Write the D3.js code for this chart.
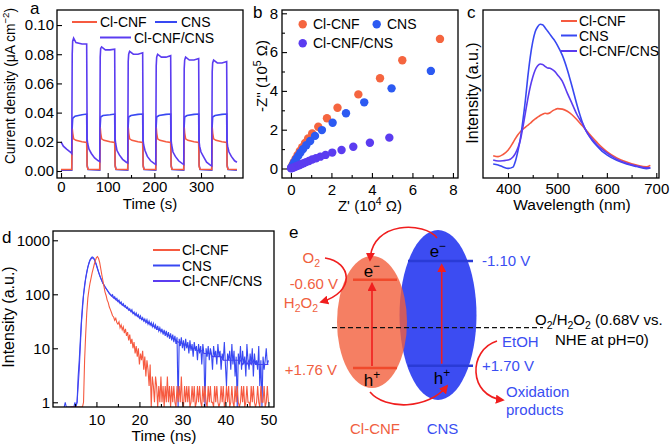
<!DOCTYPE html>
<html><head><meta charset="utf-8">
<script src="https://cdn.jsdelivr.net/npm/d3@7"></script>
<style>body{margin:0;background:#fff}svg{display:block}</style>
</head><body><svg id="c" width="671" height="447"></svg>
<script>
// ---------------- DATA ----------------
// (a) photocurrent, [time s, current µA cm^-2]
const aXTicks = [0, 100, 200, 300];
const aXMinor = [50, 150, 250, 350];
const aYTicks = [0, 0.02, 0.04, 0.06, 0.08, 0.10];
const aCNF = [[0,0.001],[23,0.001],[24,0.029],[25,0.026],[27,0.022],[32,0.021],[45,0.020],[55,0.0195],[56,0.003],[58,0.0012],[83,0.001],[84,0.030],[85,0.026],[87,0.022],[92,0.021],[105,0.020],[115,0.0195],[116,0.003],[118,0.0012],[143,0.001],[144,0.030],[145,0.026],[147,0.022],[152,0.021],[165,0.020],[175,0.0195],[176,0.003],[178,0.0012],[203,0.001],[204,0.030],[205,0.026],[207,0.022],[212,0.021],[225,0.020],[235,0.0195],[236,0.003],[238,0.0012],[263,0.001],[264,0.030],[265,0.026],[267,0.022],[272,0.021],[285,0.020],[295,0.0195],[296,0.003],[298,0.0012],[323,0.001],[324,0.030],[325,0.026],[327,0.022],[332,0.021],[345,0.020],[355,0.0195],[356,0.003],[358,0.0012],[377,0.001]];
const aCNS = [[0,0.0005],[23,0.0005],[24,0.030],[25,0.036],[30,0.0375],[45,0.0385],[55,0.039],[56,0.004],[58,0.001],[83,0.0005],[84,0.031],[85,0.037],[90,0.038],[105,0.0385],[115,0.039],[116,0.004],[118,0.001],[143,0.0005],[144,0.031],[145,0.037],[150,0.038],[165,0.0388],[175,0.039],[176,0.004],[178,0.001],[203,0.0005],[204,0.031],[205,0.037],[210,0.038],[225,0.0388],[235,0.039],[236,0.004],[238,0.001],[263,0.0005],[264,0.031],[265,0.037],[270,0.038],[285,0.0388],[295,0.039],[296,0.004],[298,0.001],[323,0.0005],[324,0.031],[325,0.037],[330,0.038],[345,0.0388],[355,0.039],[356,0.004],[358,0.001],[377,0.0005]];
const aMix = [[0,0.020],[5,0.017],[12,0.015],[20,0.013],[23,0.012],[24,0.080],[25,0.089],[27,0.091],[32,0.088],[45,0.087],[55,0.087],[56,0.022],[57,0.019],[60,0.015],[65,0.012],[72,0.009],[80,0.007],[83,0.0065],[84,0.078],[85,0.084],[87,0.085],[95,0.083],[105,0.083],[115,0.0835],[116,0.022],[117,0.019],[120,0.014],[125,0.011],[132,0.008],[140,0.006],[143,0.0055],[144,0.075],[145,0.080],[147,0.082],[155,0.080],[165,0.080],[175,0.081],[176,0.021],[177,0.018],[180,0.014],[185,0.010],[192,0.007],[200,0.005],[203,0.0045],[204,0.072],[205,0.078],[207,0.080],[215,0.078],[225,0.078],[235,0.079],[236,0.021],[237,0.018],[240,0.013],[245,0.010],[252,0.007],[260,0.005],[263,0.0045],[264,0.070],[265,0.076],[267,0.078],[275,0.076],[285,0.076],[295,0.077],[296,0.020],[297,0.017],[300,0.013],[305,0.010],[312,0.006],[320,0.004],[323,0.0035],[324,0.068],[325,0.074],[327,0.076],[335,0.074],[345,0.074],[355,0.075],[356,0.020],[357,0.017],[360,0.013],[365,0.010],[372,0.007],[377,0.006]];

// (b) Nyquist, [Z' (10^4 Ω), -Z'' (10^5 Ω)]
const bTicks = [0, 2, 4, 6, 8];
const bMinor = [1, 3, 5, 7];
const bCNF = [[7.36,6.68],[5.50,5.58],[4.40,4.65],[3.33,3.82],[2.30,3.13],[1.78,2.59],[1.35,2.15],[1.05,1.81],[0.85,1.55],[0.70,1.32],[0.56,1.10],[0.44,0.90],[0.33,0.70],[0.23,0.50],[0.14,0.32],[0.07,0.16],[0.02,0.05]];
const bCNS = [[6.91,5.03],[4.97,4.13],[3.62,3.41],[2.72,2.85],[2.06,2.36],[1.53,1.98],[1.19,1.68],[0.95,1.42],[0.76,1.20],[0.60,1.00],[0.47,0.82],[0.36,0.65],[0.26,0.49],[0.17,0.33],[0.10,0.19],[0.04,0.08],[0.01,0.02]];
const bMix = [[4.86,1.59],[3.90,1.33],[3.08,1.12],[2.50,0.95],[2.04,0.82],[1.71,0.70],[1.45,0.61],[1.24,0.53],[1.05,0.46],[0.89,0.39],[0.75,0.33],[0.62,0.27],[0.50,0.22],[0.40,0.17],[0.30,0.13],[0.21,0.09],[0.13,0.055],[0.06,0.025],[0.01,0.005]];

// (c) PL spectra
const cTicks = [400, 500, 600, 700];
const cMinor = [450, 550, 650];
const cWave = [370,380,390,400,410,415,420,425,430,435,440,445,450,455,460,465,470,475,480,485,490,495,500,510,520,530,540,550,560,570,580,590,600,620,640,660,680,688];
const cCNF = [0.133,0.127,0.140,0.165,0.210,0.235,0.258,0.275,0.290,0.302,0.314,0.326,0.340,0.352,0.362,0.372,0.380,0.385,0.383,0.388,0.400,0.407,0.413,0.410,0.397,0.375,0.345,0.312,0.278,0.244,0.212,0.182,0.157,0.120,0.095,0.077,0.066,0.075];
const cCNS = [0.083,0.078,0.066,0.057,0.065,0.100,0.160,0.235,0.340,0.460,0.600,0.720,0.810,0.870,0.900,0.915,0.912,0.895,0.875,0.855,0.835,0.815,0.790,0.730,0.645,0.540,0.430,0.335,0.270,0.225,0.190,0.160,0.138,0.105,0.083,0.068,0.056,0.060];
const cMix = [0.107,0.101,0.103,0.107,0.125,0.147,0.180,0.226,0.300,0.385,0.470,0.543,0.600,0.643,0.668,0.679,0.676,0.665,0.655,0.653,0.645,0.633,0.615,0.575,0.505,0.440,0.375,0.326,0.270,0.232,0.198,0.172,0.150,0.112,0.088,0.072,0.060,0.062];

// (d) TRPL decay, counts every 0.25 ns (purple every 0.5 ns)
const dXTicks = [10, 20, 30, 40, 50];
const dXMinor = [5, 15, 25, 35, 45];
const dYTicks = [1, 10, 100, 1000];
const dStep = 0.25;
const dCNFStart = 4.0;
const dCNF = [0,0,0,0,0,0,0,0,0,0,0,0,1,6,18,45,85,120,160,200,250,300,360,420,480,500,460,390,300,230,180,140,110,95,78,70,58,52,46,40,38,33,36,30,28,31,24,27,22,25,19,23,17,20,14,18,12,15,10,13,8,11,7,10,5,8,6,9,4,7,3,6,4,2,5,0,3,2,1,3,2,0,2,1,3,1,2,0,2,1,3,1,2,0,2,1,2,1,0,2,1,2,1,3,1,0,2,1,2,1,2,0,1,2,1,2,0,1,2,1,2,1,0,2,1,2,1,0,2,1,2,1,1,0,2,1,2,1,0,1,2,1,2,0,1,2,1,2,0,1,2,1,0,2,1,2,1,0,1,2,1,2,0,1,2,1,1,0,2,1,2,1,0,1,2,1,0,2,1,1,2,0,1,2,1];
const dCNSStart = 2.5;
const dCNS = [0,1,0,0,0,0,0,0,0,0,1,0,1,3,6,14,32,62,100,150,200,260,320,380,430,470,490,480,450,400,350,300,260,225,200,180,160,150,138,128,120,112,105,100,94,98,86,90,80,84,74,78,68,72,63,67,59,62,55,58,51,54,48,52,44,47,41,45,39,42,36,40,34,37,32,35,30,34,28,32,27,30,25,29,24,27,22,26,21,24,20,23,18,22,17,21,16,20,15,19,14,18,13,17,12,16,0,15,11,16,10,14,9,15,10,13,8,14,9,12,7,13,9,11,6,12,8,11,5,12,8,0,10,7,11,6,10,8,4,11,7,9,5,12,7,9,4,8,6,13,5,2,8,6,9,4,12,5,9,3,7,0,8,5,11,4,9,5,7,3,12,6,4,8,5,10,3,8,5,6,4,11,2,6,0,7,4,6,10,5,6];
const dMixStart = 4.0;
const dMixStep = 0.5;
const dMix = [0,0,0,1,4,28,95,195,315,425,475,445,345,255,198,160,137,119,103,93,86,80,74,69,64,60,56,52,49,45,42,40,37,35,33,31,29,28,26,25,23,22,21,20,19,18,17,16,15,14,13,13,12,12,11,11,10,10,10,9,9,9,8,8,8,8,7,7,7,7,7,6,6,6,6,6,6,6,6,6,5,6,5,6,5,6,5,5,5,5,5,5,5];

// (e) band structure (V vs NHE)
const eBands = [
  {name:"Cl-CNF", cb:-0.60, vb:1.76, cbLabel:"-0.60 V", vbLabel:"+1.76 V"},
  {name:"CNS", cb:-1.10, vb:1.70, cbLabel:"-1.10 V", vbLabel:"+1.70 V"}
];
const eRedox = 0.68;

// ---------------- STYLE ----------------
const FONT = '"Liberation Sans", Arial, Helvetica, sans-serif';
const RED = "#f65a40", BLUE = "#3848f2", PURP = "#5b3cf0";
const svg = d3.select("#c");

function styleAxis(g, fs) {
  g.attr("font-family", FONT).attr("font-size", fs);
  g.select(".domain").remove();
  g.selectAll(".tick line").attr("stroke", "#000").attr("stroke-width", 1.1);
  g.selectAll(".tick text").attr("fill", "#000");
  return g;
}
function frame(x0, y0, x1, y1) {
  svg.append("rect").attr("x", x0).attr("y", y0).attr("width", x1 - x0).attr("height", y1 - y0)
    .attr("fill", "none").attr("stroke", "#000").attr("stroke-width", 1.3);
}
function rich(x, y, parts, opt = {}) {
  const fs = opt.fs || 15;
  const t = svg.append("text").attr("x", x).attr("y", y).attr("font-family", FONT)
    .attr("font-size", fs).attr("fill", opt.fill || "#000").attr("text-anchor", opt.anchor || "start");
  if (opt.rot) t.attr("transform", `rotate(-90,${x},${y})`);
  let shift = 0;
  parts.forEach(p => {
    const [s, m] = Array.isArray(p) ? p : [p, ""];
    const want = m === "sup" ? -0.4 : m === "sub" ? 0.28 : 0;
    const ts = t.append("tspan").text(s);
    const dy = (want - shift) * fs;
    if (dy) ts.attr("dy", dy.toFixed(2));
    if (m) ts.attr("font-size", fs * 0.7);
    shift = want;
  });
  return t;
}
function legendLine(x1, x2, y, color, label, tx, fs = 14) {
  svg.append("line").attr("x1", x1).attr("x2", x2).attr("y1", y).attr("y2", y)
    .attr("stroke", color).attr("stroke-width", 2);
  rich(tx, y + 5, [label], {fs});
}

// ---------------- PANEL A ----------------
{
  const x = d3.scaleLinear().domain([-8.6, 390]).range([57, 243]);
  const y = d3.scaleLinear().domain([-0.0048, 0.1103]).range([178, 10]);
  const line = d3.line().x(d => x(d[0])).y(d => y(d[1]));
  [[aCNS, BLUE], [aCNF, RED], [aMix, PURP]].forEach(([d, c]) =>
    svg.append("path").datum(d).attr("d", line).attr("fill", "none").attr("stroke", c).attr("stroke-width", 1.6));
  styleAxis(svg.append("g").attr("transform", "translate(0,178)")
    .call(d3.axisBottom(x).tickValues(aXTicks).tickSize(-5).tickPadding(3.5).tickFormat(d3.format("d"))), 15);
  styleAxis(svg.append("g").attr("transform", "translate(0,178)")
    .call(d3.axisBottom(x).tickValues(aXMinor).tickSize(-3).tickFormat("")), 15);
  styleAxis(svg.append("g").attr("transform", "translate(57,0)")
    .call(d3.axisLeft(y).tickValues(aYTicks).tickSize(-5).tickPadding(3).tickFormat(d3.format(".2f"))), 15);
  frame(57, 10, 243, 178);
  legendLine(72, 97, 22, RED, "Cl-CNF", 100);
  legendLine(155, 177, 22, BLUE, "CNS", 181);
  legendLine(100, 131, 37.5, PURP, "Cl-CNF/CNS", 134);
  rich(150, 209, ["Time (s)"], {anchor: "middle"});
  rich(15, 86, ["Current density (μA cm", ["−2", "sup"], ")"], {anchor: "middle", rot: true, fs: 13.8});
  rich(30, 14, ["a"], {fs: 17});
}

// ---------------- PANEL B ----------------
{
  const x = d3.scaleLinear().domain([-0.44, 8.25]).range([282, 458]);
  const y = d3.scaleLinear().domain([-0.49, 8.17]).range([178, 10]);
  [[bCNF, "#f5653f"], [bCNS, "#2c5af2"], [bMix, PURP]].forEach(([d, c]) =>
    svg.append("g").selectAll("circle").data(d).join("circle")
      .attr("cx", p => x(p[0])).attr("cy", p => y(p[1])).attr("r", 4.2).attr("fill", c));
  styleAxis(svg.append("g").attr("transform", "translate(0,178)")
    .call(d3.axisBottom(x).tickValues(bTicks).tickSize(-5).tickPadding(6).tickFormat(d3.format("d"))), 15);
  styleAxis(svg.append("g").attr("transform", "translate(0,178)")
    .call(d3.axisBottom(x).tickValues(bMinor).tickSize(-3).tickFormat("")), 15);
  styleAxis(svg.append("g").attr("transform", "translate(282,0)")
    .call(d3.axisLeft(y).tickValues(bTicks).tickSize(-5).tickPadding(4).tickFormat(d3.format("d"))), 15);
  styleAxis(svg.append("g").attr("transform", "translate(282,0)")
    .call(d3.axisLeft(y).tickValues(bMinor).tickSize(-3).tickFormat("")), 15);
  frame(282, 10, 458, 178);
  const lg = [[302.7, 24.3, "#f5653f", "Cl-CNF", 313], [376.7, 24.3, "#2c5af2", "CNS", 387], [302.7, 43.3, PURP, "Cl-CNF/CNS", 313]];
  lg.forEach(([cx, cy, c, l, tx]) => {
    svg.append("circle").attr("cx", cx).attr("cy", cy).attr("r", 4.2).attr("fill", c);
    rich(tx, cy + 5, [l], {fs: 14});
  });
  rich(370, 211, ["Z' (10", ["4", "sup"], " Ω)"], {anchor: "middle"});
  rich(267, 76, ["-Z'' (10", ["5", "sup"], " Ω)"], {anchor: "middle", rot: true});
  rich(253, 18, ["b"], {fs: 17});
}

// ---------------- PANEL C ----------------
{
  const x = d3.scaleLinear().domain([349.4, 705.5]).range([483, 659]);
  const y = d3.scaleLinear().domain([0, 1]).range([178, 10]);
  const line = d3.line().x((d, i) => x(cWave[i])).y(d => y(d)).curve(d3.curveMonotoneX);
  [[cCNF, RED], [cCNS, BLUE], [cMix, PURP]].forEach(([d, c]) =>
    svg.append("path").datum(d).attr("d", line).attr("fill", "none").attr("stroke", c).attr("stroke-width", 1.6));
  styleAxis(svg.append("g").attr("transform", "translate(0,178)")
    .call(d3.axisBottom(x).tickValues(cTicks).tickSize(-5).tickPadding(5.5).tickFormat(d3.format("d"))), 15);
  styleAxis(svg.append("g").attr("transform", "translate(0,178)")
    .call(d3.axisBottom(x).tickValues(cMinor).tickSize(-3).tickFormat("")), 15);
  frame(483, 10, 659, 178);
  legendLine(561, 577, 21, RED, "Cl-CNF", 579);
  legendLine(561, 577, 35.5, BLUE, "CNS", 579);
  legendLine(561, 577, 51, PURP, "Cl-CNF/CNS", 579);
  rich(572, 210, ["Wavelength (nm)"], {anchor: "middle", fs: 15.5});
  rich(477.5, 93, ["Intensity (a.u.)"], {anchor: "middle", rot: true, fs: 16});
  rich(467, 18, ["c"], {fs: 17});
}

// ---------------- PANEL D ----------------
{
  const x = d3.scaleLinear().domain([-0.1, 51.3]).range([53, 274]);
  const y = d3.scaleLog().domain([0.818, 1486]).range([407, 231]).clamp(true);
  const clip = svg.append("clipPath").attr("id", "clipd");
  clip.append("rect").attr("x", 53).attr("y", 231).attr("width", 221).attr("height", 176);
  const mk = (start, step) => d3.line().x((d, i) => x(start + i * step)).y(d => y(Math.max(d, 0.5)));
  [[dMix, PURP, dMixStart, dMixStep], [dCNS, BLUE, dCNSStart, dStep], [dCNF, RED, dCNFStart, dStep]].forEach(([d, c, s, st]) =>
    svg.append("path").datum(d).attr("d", mk(s, st)).attr("fill", "none").attr("stroke", c)
      .attr("stroke-width", 1.1).attr("clip-path", "url(#clipd)"));
  styleAxis(svg.append("g").attr("transform", "translate(0,407)")
    .call(d3.axisBottom(x).tickValues(dXTicks).tickSize(-5).tickPadding(7).tickFormat(d3.format("d"))), 15);
  styleAxis(svg.append("g").attr("transform", "translate(0,407)")
    .call(d3.axisBottom(x).tickValues(dXMinor).tickSize(-3).tickFormat("")), 15);
  styleAxis(svg.append("g").attr("transform", "translate(53,0)")
    .call(d3.axisLeft(y).tickValues(dYTicks).tickSize(-5).tickPadding(3).tickFormat(d3.format("d"))), 15);
  frame(53, 231, 274, 407);
  legendLine(153, 180, 250, RED, "Cl-CNF", 182);
  legendLine(153, 180, 265.5, BLUE, "CNS", 182);
  legendLine(153, 180, 281, PURP, "Cl-CNF/CNS", 182);
  rich(164, 441, ["Time (ns)"], {anchor: "middle", fs: 15.5});
  rich(14, 317, ["Intensity (a.u.)"], {anchor: "middle", rot: true, fs: 16});
  rich(2, 243, ["d"], {fs: 17});
}

// ---------------- PANEL E ----------------
{
  const ey = d3.scaleLinear().domain([-1.10, 1.76]).range([261, 368]);
  const ARROW = "#f01e1e", OR = "#f0603f", BL = "#3a4ef2";
  const defs = svg.append("defs");
  defs.append("marker").attr("id", "ah").attr("viewBox", "0 0 10 10").attr("refX", 8).attr("refY", 5)
    .attr("markerWidth", 9).attr("markerHeight", 9).attr("markerUnits", "userSpaceOnUse").attr("orient", "auto")
    .append("path").attr("d", "M0,0 L10,5 L0,10 z").attr("fill", ARROW);
  const cns = eBands[1], cnf = eBands[0];
  svg.append("ellipse").attr("cx", 438).attr("cy", 315).attr("rx", 38.5).attr("ry", 85).attr("fill", "#3c4cf2");
  svg.append("ellipse").attr("cx", 372).attr("cy", 322).attr("rx", 35).attr("ry", 66).attr("fill", "#f25f3c").attr("fill-opacity", 0.8);
  [[cnf, 353, 397, "#f04a2c"], [cns, 408, 473, "#2a3bd6"]].forEach(([b, x1, x2, c]) => {
    [b.cb, b.vb].forEach(v => svg.append("line").attr("x1", x1).attr("x2", x2).attr("y1", ey(v)).attr("y2", ey(v))
      .attr("stroke", c).attr("stroke-width", 2.5));
  });
  svg.append("line").attr("x1", 332).attr("x2", 543).attr("y1", ey(eRedox)).attr("y2", ey(eRedox))
    .attr("stroke", "#111").attr("stroke-width", 1.3).attr("stroke-dasharray", "5,3");
  [[372, cnf], [441.7, cns]].forEach(([xx, b]) =>
    svg.append("line").attr("x1", xx).attr("x2", xx).attr("y1", ey(b.vb) - 2).attr("y2", ey(b.cb) + 4)
      .attr("stroke", ARROW).attr("stroke-width", 1.6).attr("marker-end", "url(#ah)"));
  const curves = [
    "M437,238 C425,222 372,220 370,260",
    "M370,392 C385,410 428,410 447,386",
    "M325,258 C352,262 356,292 321,302",
    "M497,341 C468,350 468,396 503,400"
  ];
  curves.forEach(d => svg.append("path").attr("d", d).attr("fill", "none").attr("stroke", ARROW)
    .attr("stroke-width", 1.6).attr("marker-end", "url(#ah)"));
  rich(372, ey(cnf.cb) - 3, ["e", ["−", "sup"]], {anchor: "middle", fs: 17});
  rich(438, ey(cns.cb) - 4, ["e", ["−", "sup"]], {anchor: "middle", fs: 17});
  rich(372, ey(cnf.vb) + 18, ["h", ["+", "sup"]], {anchor: "middle", fs: 17});
  rich(442, ey(cns.vb) + 18, ["h", ["+", "sup"]], {anchor: "middle", fs: 17});
  rich(320, 263, ["O", ["2", "sub"]], {fill: OR, anchor: "end"});
  rich(338, ey(cnf.cb) + 9, [cnf.cbLabel], {fill: OR, anchor: "end"});
  rich(318, 308, ["H", ["2", "sub"], "O", ["2", "sub"]], {fill: OR, anchor: "end"});
  rich(337, ey(cnf.vb) + 7, [cnf.vbLabel], {fill: OR, anchor: "end"});
  rich(482, ey(cns.cb) + 5, [cns.cbLabel], {fill: BL});
  rich(482, ey(cns.vb) + 5, [cns.vbLabel], {fill: BL});
  rich(502, 347, ["EtOH"], {fill: BL});
  rich(506, 397, ["Oxidation"], {fill: BL});
  rich(506, 415, ["products"], {fill: BL});
  rich(535, 325, ["O", ["2", "sub"], "/H", ["2", "sub"], "O", ["2", "sub"], " (0.68V vs."], {});
  rich(555, 345, ["NHE at pH=0)"], {});
  rich(375, 434, [cnf.name], {fill: OR, anchor: "middle"});
  rich(442.5, 434, [cns.name], {fill: BL, anchor: "middle"});
  rich(289, 238, ["e"], {fs: 17});
}
</script></body></html>
